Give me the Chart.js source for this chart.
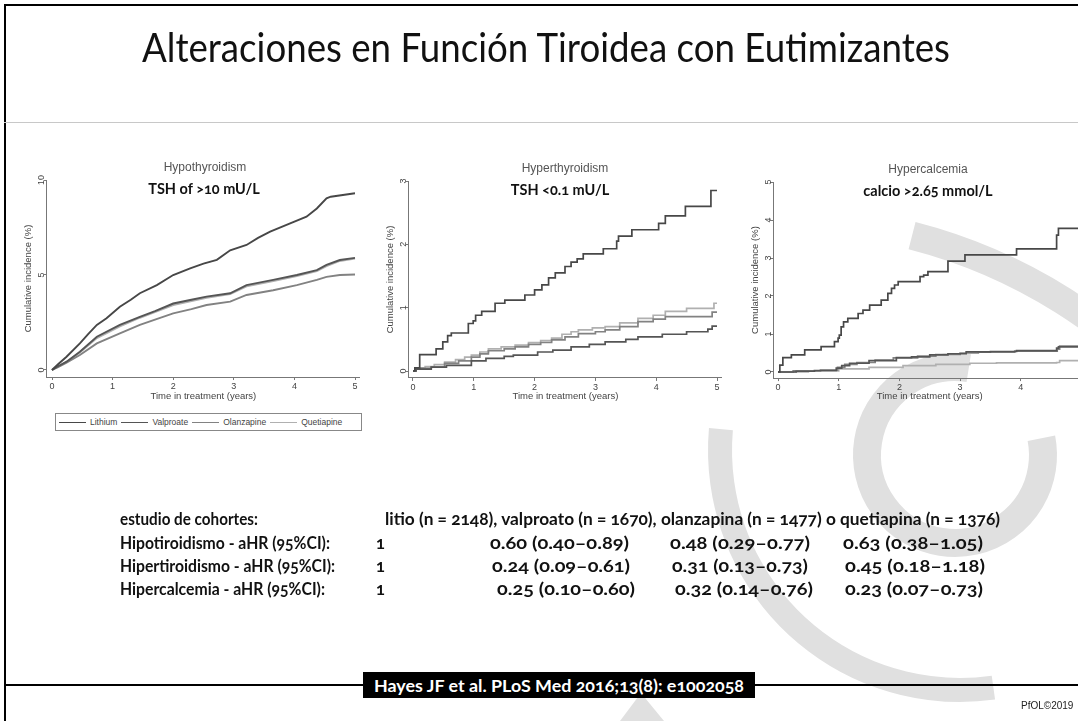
<!DOCTYPE html>
<html><head><meta charset="utf-8">
<script src="https://cdn.jsdelivr.net/npm/chart.js@4.4.1/dist/chart.umd.min.js"></script>
<style>
html,body{margin:0;padding:0;width:1078px;height:721px;overflow:hidden;background:#fff;}
body{position:relative;font-family:'Liberation Sans',Arial,sans-serif;}
.abs{position:absolute;white-space:nowrap;}
#wm{position:absolute;left:0;top:0;z-index:0;}
canvas.ch{position:absolute;z-index:2;}
.frame{position:absolute;background:#000;z-index:1;}
.ttl{font-family:Lato,'Open Sans',sans-serif;font-size:41px;color:#111;z-index:3;transform-origin:0 0;}
.ptitle{font-family:'Liberation Sans',Arial,sans-serif;font-size:12px;color:#555;z-index:3;transform:translate(-50%,-50%);}
.psub{font-family:Lato,sans-serif;font-weight:bold;font-size:14.5px;color:#111;z-index:3;transform:translate(-50%,-50%);font-feature-settings:"onum";}
.tb{font-family:Lato,sans-serif;font-weight:bold;font-size:16.5px;color:#111;z-index:3;font-feature-settings:"onum";transform-origin:0 50%;}
#legend{position:absolute;left:55px;top:413px;width:305px;height:16px;border:1px solid #888;z-index:3;display:flex;align-items:center;font-family:'Liberation Sans',Arial,sans-serif;font-size:8.5px;color:#444;background:#fff;}
#legend .it{display:flex;align-items:center;}
#legend .ln{display:inline-block;width:27px;height:0;border-top:1.5px solid #555;margin-right:4px;}
#footbox{position:absolute;left:363px;top:672px;width:392px;height:26px;background:#000;z-index:3;}
#foot{position:absolute;color:#fff;z-index:4;font-family:Lato,sans-serif;font-weight:bold;font-size:17px;font-feature-settings:"onum";transform-origin:0 50%;}
#pfol{font-family:'Liberation Sans',Arial,sans-serif;font-size:10px;color:#222;z-index:3;}
</style></head>
<body>
<canvas id="wm" width="1078" height="721"></canvas>
<div class="frame" style="left:4px;top:4px;width:2px;height:717px"></div>
<div class="frame" style="left:4px;top:4px;width:1074px;height:2px"></div>
<div class="frame" style="left:4px;top:122px;width:1074px;height:1px;background:#c8c8c8"></div>
<div class="frame" style="left:4px;top:684px;width:1074px;height:2px"></div>
<div class="abs ttl" id="title" style="left:142px;top:22px;">Alteraciones en Función Tiroidea con Eutimizantes</div>

<canvas class="ch" id="c1"></canvas>
<canvas class="ch" id="c2"></canvas>
<canvas class="ch" id="c3"></canvas>

<div class="abs ptitle" style="left:205px;top:167px">Hypothyroidism</div>
<div class="abs psub" style="left:204px;top:188px">TSH of &gt;10 mU/L</div>
<div class="abs ptitle" style="left:565px;top:168px">Hyperthyroidism</div>
<div class="abs psub" style="left:560px;top:189px">TSH &lt;0.1 mU/L</div>
<div class="abs ptitle" style="left:928px;top:169px">Hypercalcemia</div>
<div class="abs psub" style="left:928px;top:190px">calcio &gt;2.65 mmol/L</div>

<div id="legend"></div>
<div id="table"></div>
<div id="footbox"></div>
<div class="abs" id="foot">Hayes JF et al. PLoS Med 2016;13(8): e1002058</div>
<div class="abs" id="pfol" style="left:1021px;top:700px">PfOL©2019</div>

<script>
// ---------- data ----------
const drugs = ['Lithium', 'Valproate', 'Olanzapine', 'Quetiapine'];
const drugColors = ['#474747', '#555555', '#828282', '#b0b0b0'];
const yearTicks = [0, 1, 2, 3, 4, 5];
const hypoTicks = [0, 5, 10];
const hyperTicks = [0, 1, 2, 3];
const calcTicks = [0, 1, 2, 3, 4, 5];

// Hypothyroidism (cumulative incidence %, by year)
const hypoLithium = [[0,0],[0.1,0.3],[0.24,0.7],[0.46,1.4],[0.6,1.9],[0.74,2.37],[0.9,2.72],[1.12,3.33],[1.3,3.7],[1.45,4.04],[1.73,4.47],[2.0,5.0],[2.28,5.35],[2.5,5.6],[2.72,5.8],[2.94,6.3],[3.21,6.58],[3.4,6.95],[3.6,7.28],[3.93,7.72],[4.2,8.07],[4.37,8.5],[4.53,9.04],[4.6,9.12],[5,9.3]];
const hypoValproate = [[0,0],[0.1,0.2],[0.24,0.44],[0.46,0.96],[0.74,1.75],[1.12,2.37],[1.45,2.8],[1.7,3.1],[2.0,3.5],[2.3,3.7],[2.55,3.86],[2.94,4.04],[3.21,4.47],[3.65,4.74],[4.04,5.0],[4.37,5.26],[4.53,5.53],[4.75,5.79],[5,5.9]];
const hypoOlanzapine = [[0,0],[0.1,0.15],[0.24,0.39],[0.46,0.79],[0.74,1.4],[1.12,1.93],[1.45,2.37],[1.7,2.65],[2.0,2.98],[2.3,3.2],[2.55,3.42],[2.94,3.6],[3.21,3.95],[3.65,4.2],[4.04,4.47],[4.37,4.74],[4.53,4.9],[4.75,5.0],[5,5.03]];
const hypoQuetiapine = [[0,0],[0.24,0.42],[0.46,0.92],[0.74,1.68],[1.12,2.3],[1.45,2.75],[2.0,3.42],[2.55,3.8],[2.94,4.0],[3.21,4.4],[3.65,4.68],[4.04,4.95],[4.37,5.2],[4.53,5.47],[4.75,5.74],[5,5.86]];

// Hyperthyroidism (step: [time of jump, new value])
const hyperLithium = [[0,0],[0.03,0.05],[0.11,0.26],[0.38,0.35],[0.49,0.46],[0.57,0.56],[0.63,0.6],[0.91,0.75],[0.99,0.79],[1.03,0.88],[1.13,0.94],[1.35,1.07],[1.51,1.12],[1.84,1.2],[2.0,1.28],[2.12,1.36],[2.23,1.47],[2.34,1.55],[2.5,1.65],[2.6,1.72],[2.7,1.77],[2.8,1.85],[3.13,1.93],[3.35,2.05],[3.38,2.13],[3.6,2.23],[4.04,2.33],[4.15,2.45],[4.48,2.6],[4.9,2.85],[5,2.85]];
const hyperValproate = [[0,0],[0.05,0.03],[0.3,0.06],[0.55,0.09],[0.96,0.16],[1.2,0.2],[1.5,0.23],[1.65,0.25],[2.05,0.3],[2.3,0.33],[2.6,0.38],[2.9,0.42],[3.16,0.46],[3.5,0.5],[3.7,0.54],[4.1,0.58],[4.5,0.62],[4.85,0.66],[4.92,0.71],[5,0.71]];
const hyperOlanzapine = [[0,0],[0.05,0.04],[0.3,0.06],[0.52,0.12],[0.75,0.16],[0.96,0.22],[1.1,0.27],[1.24,0.32],[1.5,0.35],[1.68,0.38],[1.9,0.42],[2.1,0.45],[2.28,0.49],[2.5,0.54],[2.72,0.59],[3.0,0.62],[3.16,0.65],[3.4,0.7],[3.7,0.78],[3.95,0.82],[4.15,0.86],[4.92,0.93],[5,0.93]];
const hyperQuetiapine = [[0,0],[0.05,0.05],[0.2,0.07],[0.35,0.1],[0.52,0.14],[0.7,0.18],[0.85,0.22],[0.96,0.25],[1.1,0.3],[1.24,0.35],[1.45,0.38],[1.68,0.41],[1.9,0.45],[2.1,0.48],[2.28,0.52],[2.45,0.58],[2.6,0.62],[2.72,0.65],[2.95,0.68],[3.16,0.7],[3.4,0.76],[3.7,0.83],[3.95,0.88],[4.15,0.94],[4.5,0.99],[4.95,1.07],[5,1.07]];

// Hypercalcemia (step)
const calcLithium = [[0,0],[0.03,0.18],[0.08,0.38],[0.22,0.45],[0.44,0.58],[0.71,0.67],[0.93,0.8],[0.99,0.89],[1.01,0.97],[1.04,1.19],[1.08,1.32],[1.15,1.41],[1.32,1.54],[1.4,1.63],[1.51,1.76],[1.7,1.89],[1.81,2.07],[1.87,2.2],[1.92,2.29],[1.98,2.38],[2.34,2.51],[2.4,2.55],[2.47,2.64],[2.8,2.92],[3.08,3.08],[3.93,3.24],[4.59,3.6],[4.62,3.78],[5,3.78]];
const calcValproate = [[0,0],[0.3,0.02],[0.6,0.04],[0.96,0.1],[1.05,0.17],[1.18,0.23],[1.5,0.3],[1.95,0.38],[2.2,0.4],[2.5,0.45],[2.8,0.48],[3.1,0.53],[3.5,0.54],[3.93,0.56],[4.59,0.63],[4.62,0.66],[5,0.66]];
const calcOlanzapine = [[0,0],[0.25,0.03],[0.7,0.05],[0.98,0.12],[1.1,0.2],[1.3,0.25],[1.6,0.31],[1.9,0.37],[2.3,0.42],[2.6,0.46],[3.0,0.5],[3.3,0.52],[3.9,0.55],[4.6,0.6],[4.64,0.68],[5,0.68]];
const calcQuetiapine = [[0,0],[0.5,0.03],[1.0,0.08],[1.5,0.12],[2.06,0.17],[2.6,0.2],[3.16,0.23],[3.6,0.24],[4.59,0.25],[4.64,0.3],[5,0.3]];

// Table text
const tableHeader = ['estudio de cohortes:', 'litio (n = 2148), valproato (n = 1670), olanzapina (n = 1477) o quetiapina (n = 1376)'];
const outcomes = ['Hipotiroidismo - aHR (95%CI):', 'Hipertiroidismo - aHR (95%CI):', 'Hipercalcemia - aHR (95%CI):'];
const hrLithium = ['1', '1', '1'];
const hrValproate = ['0.60 (0.40–0.89)', '0.24 (0.09–0.61)', '0.25 (0.10–0.60)'];
const hrOlanzapine = ['0.48 (0.29–0.77)', '0.31 (0.13–0.73)', '0.32 (0.14–0.76)'];
const hrQuetiapine = ['0.63 (0.38–1.05)', '0.45 (0.18–1.18)', '0.23 (0.07–0.73)'];

// ---------- helpers ----------
function fitWidth(el, target) {
  const w = el.getBoundingClientRect().width;
  return w > 0 ? target / w : 1;
}

// ---------- watermark (background decoration) ----------
(function(){
  const g = document.getElementById('wm').getContext('2d');
  const d = Math.PI / 180;
  g.strokeStyle = '#e0e0e0'; g.fillStyle = '#e0e0e0'; g.lineCap = 'butt';
  g.lineWidth = 28; g.beginPath(); g.arc(780, 750, 531, -75.6 * d, -40 * d); g.stroke();
  g.lineWidth = 24; g.beginPath(); g.arc(960, 450, 240, 82 * d, 185 * d); g.stroke();
  g.lineWidth = 28; g.beginPath(); g.arc(955, 455, 88, -81 * d, -11 * d, true); g.stroke();
  g.beginPath(); g.moveTo(641, 693); g.lineTo(664, 721); g.lineTo(620, 721); g.closePath(); g.fill();
})();

// ---------- charts ----------
const axisFont = {family: "'Liberation Sans', Arial, sans-serif", size: 9};
function makeChart(id, cfg) {
  const c = document.getElementById(id);
  const b = cfg.box;
  c.width = b.w; c.height = b.h;
  Object.assign(c.style, {left: b.x + 'px', top: b.y + 'px', width: b.w + 'px', height: b.h + 'px'});
  const areaL = cfg.px0 + cfg.xmin * cfg.ppx, areaR = cfg.px0 + cfg.xmax * cfg.ppx;
  const areaT = cfg.py0 - cfg.ymax * cfg.ppy, areaB = cfg.py0 - cfg.ymin * cfg.ppy;
  const yW = areaL - b.x, xH = b.y + b.h - areaB;
  const padTop = areaT - b.y, padRight = b.x + b.w - areaR;
  const titleLH = 9.5 * 1.2;
  new Chart(c, {
    type: 'line',
    data: {datasets: cfg.series.map((s, i) => ({
      label: drugs[i],
      data: s.map(p => ({x: p[0], y: p[1]})),
      borderColor: drugColors[i], borderWidth: cfg.lw, pointRadius: 0,
      stepped: cfg.stepped ? 'before' : false, tension: 0, fill: false
    }))},
    options: {
      responsive: false, animation: false, devicePixelRatio: 1,
      layout: {padding: {left: 0, top: padTop, right: padRight, bottom: 0}},
      plugins: {legend: {display: false}, tooltip: {enabled: false}},
      scales: {
        x: {type: 'linear', min: cfg.xmin, max: cfg.xmax,
          afterBuildTicks: s => { s.ticks = yearTicks.map(v => ({value: v})); },
          afterFit: s => { s.height = xH; },
          grid: {drawOnChartArea: false, drawTicks: true, tickLength: 3, color: '#777'},
          border: {display: true, color: '#777', width: 1},
          ticks: {font: axisFont, color: '#444', padding: 1, maxRotation: 0, autoSkip: false},
          title: {display: true, text: 'Time in treatment (years)', font: {family: axisFont.family, size: 9.5}, color: '#444', padding: {top: 0, bottom: 4}}
        },
        y: {type: 'linear', min: cfg.ymin, max: cfg.ymax,
          afterBuildTicks: s => { s.ticks = cfg.yticks.map(v => ({value: v})); },
          afterFit: s => { s.width = yW; },
          grid: {drawOnChartArea: false, drawTicks: true, tickLength: 3, color: '#777'},
          border: {display: true, color: '#777', width: 1},
          ticks: {font: axisFont, color: '#444', padding: cfg.yTickPad, minRotation: 90, maxRotation: 90, crossAlign: 'center', autoSkip: false},
          title: {display: true, text: 'Cumulative incidence (%)', font: {family: axisFont.family, size: 9.5}, color: '#444', padding: {top: cfg.yTitleX - b.x - titleLH / 2, bottom: 0}}
        }
      }
    }
  });
}

makeChart('c1', {box: {x: 0, y: 160, w: 372, h: 246}, px0: 52, ppx: 60.6, xmin: -0.083, xmax: 5.08,
  py0: 370, ppy: 19, ymin: -0.37, ymax: 10, yticks: hypoTicks, yTickPad: -3, yTitleX: 28, stepped: false, lw: 1.9,
  series: [hypoLithium, hypoValproate, hypoOlanzapine, hypoQuetiapine]});
makeChart('c2', {box: {x: 370, y: 160, w: 366, h: 246}, px0: 413, ppx: 60.8, xmin: -0.066, xmax: 5.08,
  py0: 371, ppy: 63.33, ymin: -0.11, ymax: 3, yticks: hyperTicks, yTickPad: 0, yTitleX: 390, stepped: true, lw: 1.7,
  series: [hyperLithium, hyperValproate, hyperOlanzapine, hyperQuetiapine]});
makeChart('c3', {box: {x: 738, y: 160, w: 362, h: 246}, px0: 778, ppx: 60.7, xmin: -0.082, xmax: 5.08,
  py0: 372, ppy: 38, ymin: -0.16, ymax: 5, yticks: calcTicks, yTickPad: -0.5, yTitleX: 755, stepped: true, lw: 1.7,
  series: [calcLithium, calcValproate, calcOlanzapine, calcQuetiapine]});

// ---------- legend ----------
const lg = document.getElementById('legend');
drugs.forEach((d, i) => {
  const it = document.createElement('span'); it.className = 'it';
  const ln = document.createElement('span'); ln.className = 'ln'; ln.style.borderTopColor = drugColors[i];
  it.appendChild(ln); it.appendChild(document.createTextNode(d));
  it.style.marginLeft = i === 0 ? '3px' : '4px';
  lg.appendChild(it);
});

// ---------- title ----------
const ttl = document.getElementById('title');
ttl.style.transform = 'scaleX(' + fitWidth(ttl, 808) + ')';

// ---------- table ----------
const tb = document.getElementById('table');
function cell(text, x, y, target) {
  const e = document.createElement('div'); e.className = 'abs tb';
  e.style.left = x + 'px'; e.style.top = y + 'px'; e.textContent = text; tb.appendChild(e);
  const h = e.getBoundingClientRect().height;
  e.style.top = (y - h / 2) + 'px';
  const k = target ? fitWidth(e, target) : 1;
  e.style.transform = 'scaleX(' + k + ')';
}
const rowY = [519, 543, 566, 589];
cell(tableHeader[0], 120, rowY[0], 138);
cell(tableHeader[1], 385, rowY[0], 615);
const labelW = [210, 215, 205];
const colX = [[376, 490, 670, 843], [376, 492, 672, 845], [376, 497, 675, 845]];
const colW = [[0, 139, 140, 140], [0, 138, 136, 140], [0, 138, 138, 138]];
outcomes.forEach((o, r) => {
  const y = rowY[r + 1];
  cell(o, 120, y, labelW[r]);
  cell(hrLithium[r], colX[r][0], y, 0);
  cell(hrValproate[r], colX[r][1], y, colW[r][1]);
  cell(hrOlanzapine[r], colX[r][2], y, colW[r][2]);
  cell(hrQuetiapine[r], colX[r][3], y, colW[r][3]);
});

// ---------- footer ----------
const ft = document.getElementById('foot');
const fk = fitWidth(ft, 370);
const fh = ft.getBoundingClientRect().height;
ft.style.left = '374px';
ft.style.top = (685 - fh / 2) + 'px';
ft.style.transform = 'scaleX(' + fk + ')';
</script>
</body></html>
